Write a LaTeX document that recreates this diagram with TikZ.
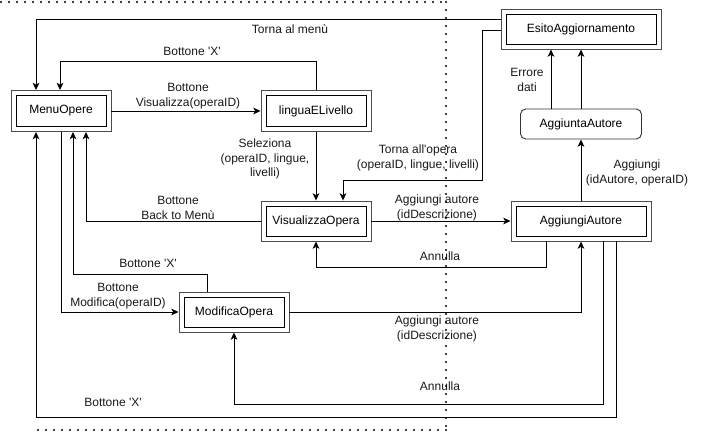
\documentclass[tikz,border=0pt]{standalone}
\usepackage{fontspec}
\setmainfont{Liberation Sans}[Ligatures=TeXOff]
\usetikzlibrary{arrows.meta,calc}
\begin{document}
\begin{tikzpicture}[x=0.75pt,y=-0.75pt,
  font=\fontsize{9}{10.8}\selectfont,
  dbox/.style={draw=black!70, line width=0.7pt, minimum height=30pt, inner sep=0pt,
    path picture={\draw[black,line width=0.7pt]
      ([shift={(3.75pt,-3.75pt)}]path picture bounding box.north west) rectangle
      ([shift={(-3.75pt,3.75pt)}]path picture bounding box.south east);}},
  rbox/.style={draw=black!80, line width=0.7pt, rounded corners=4pt, minimum height=22.5pt, minimum width=90.75pt, inner sep=0pt},
  arr/.style={draw=black, line width=0.7pt, -{Stealth[length=5.5pt,width=5pt,inset=1.5pt]}},
  lbl/.style={align=center, text=black!90, inner sep=0pt},
  dotline/.style={line width=1.7pt, line cap=round, dash pattern=on 0pt off 6pt, black}]
\useasboundingbox (0,0) rectangle (708,432);

% nodes
\node[dbox, minimum width=75pt, minimum height=30.75pt] (menu) at (61,111) {MenuOpere};
\node[dbox, minimum width=82.5pt, minimum height=30.75pt] (lingua) at (316,111) {linguaELivello};
\node[dbox, minimum width=82.5pt] (visual) at (316,221) {VisualizzaOpera};
\node[dbox, minimum width=82.5pt] (modifica) at (234,312) {ModificaOpera};
\node[dbox, minimum width=105pt] (aggiungi) at (581,221) {AggiungiAutore};
\node[dbox, minimum width=120pt] (esito) at (581,29) {EsitoAggiornamento};
\node[rbox] (aggiunta) at (581,124) {AggiuntaAutore};

% connectors
\draw[arr] ($(esito.west)+(0,-10)$) -| ($(menu.north)+(-25,0)$);
\node[lbl] (l1) at (290,29) {Torna al menù};

\draw[arr] (lingua.north) -- (lingua.north |- 0,61) -| ($(menu.north)+(-1,0)$);
\node[lbl] (l2) at (192,51) {Bottone 'X'};

\draw[arr] (menu) -- (lingua);
\node[lbl] (l3) at (188,96) {Bottone\\Visualizza(operaID)};

\draw[arr] (lingua) -- (visual);
\node[lbl] (l4) at (265,159) {Seleziona\\(operaID, lingue,\\livelli)};

\draw[arr] ($(esito.west)+(0,1)$) -- ++(-18,0) |- ($(visual.north)+(27,-20)$) -- ($(visual.north)+(27,0)$);
\node[lbl] (l5) at (418,158) {Torna all'opera\\(operaID, lingue, livelli)};

\draw[arr] (visual.west) -| ($(menu.south)+(25,0)$);
\node[lbl] (l6) at (178,208) {Bottone\\Back to Menù};

\draw[arr] (visual) -- (aggiungi);
\node[lbl] (l7) at (437,208) {Aggiungi autore\\(idDescrizione)};

\draw[arr] ($(aggiungi.south)+(-35,0)$) -- ++(0,26) -| (visual.south);
\node[lbl] (l8) at (440,256) {Annulla};

\draw[arr] ($(modifica.north)+(-27,0)$) -- ++(0,-17) -| ($(menu.south)+(12,0)$);
\node[lbl] (l9) at (148,263) {Bottone 'X'};

\draw[arr] (menu.south) |- (modifica.west);
\node[lbl] (l10) at (118,296) {Bottone\\Modifica(operaID)};

\draw[arr] (modifica.east) -| (aggiungi.south);
\node[lbl] (l11) at (437,329) {Aggiungi autore\\(idDescrizione)};

\draw[arr] ($(aggiungi.south)+(22,0)$) -- ++(0,163) -| (modifica.south);
\node[lbl] (l12) at (440,386) {Annulla};

\draw[arr] ($(aggiungi.south)+(35,0)$) -- ++(0,176) -| ($(menu.south)+(-25,0)$);
\node[lbl] (l13) at (113,402) {Bottone 'X'};

\draw[arr] (aggiungi) -- (aggiunta);
\node[lbl] (l14) at (637,173) {Aggiungi\\(idAutore, operaID)};

\draw[arr] ($(aggiunta.north)+(-30,0)$) -- ($(esito.south)+(-30,0)$);
\node[lbl] (l15) at (527,80) {Errore\\dati};

\draw[arr] (aggiunta) -- (esito);

% dotted boundary
\draw[dotline] (1,2) -- (446,2);
\draw[dotline] (446,2) -- (446,432);
\draw[dotline] (38,430) -- (446,430);
\end{tikzpicture}
\end{document}
